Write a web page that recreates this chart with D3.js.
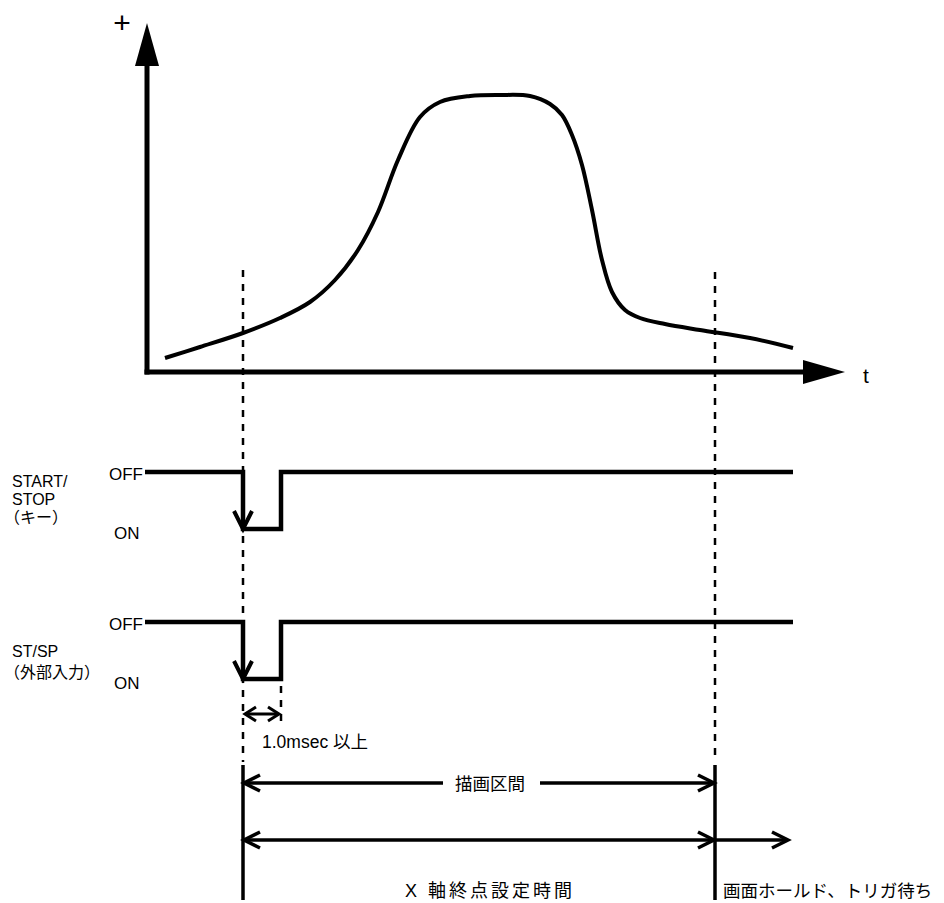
<!DOCTYPE html>
<html><head><meta charset="utf-8">
<script src="https://cdn.jsdelivr.net/npm/d3@7"></script>
<style>
html,body{margin:0;padding:0;background:#fff;}
svg{display:block;}
text{font-family:"Liberation Sans","Noto Sans CJK JP",Arial,sans-serif;fill:#000;}
</style></head>
<body>
<script>
// ---- data ----
const curveT = [18,53,96,133,163,188,211,231,251,273,293,323,353,383,403,415,425,435,445,455,465,478,493,518,553,603,646];
const curveV = [14,25,39,54,70,92,122,160,212,255,270,276,277,276,268,257,237,207,162,112,80,62,54,48,42,34,24];
const signalNames = ["START/STOP", "ST/SP"];
const signalLabelLines = [["START/", "STOP", "（キー）"], ["ST/SP", "（外部入力）"]];
const stateLabels = ["OFF", "ON"];
const signalT = [-2, 96, 134, 646];   // start, press, release, end
const markT = [96, 568, 641];          // trigger, x-axis end, hold arrow end
const pulseLabel = "1.0msec 以上";
const spanLabels = ["描画区間", "X 軸終点設定時間", "画面ホールド、トリガ待ち"];

const W = 944, H = 903;
const svg = d3.select("body").append("svg").attr("width", W).attr("height", H);

const x = d3.scaleLinear().domain([0, 700]).range([147, 847]);
const y = d3.scaleLinear().domain([0, 280]).range([372, 92]);
const sigY = d3.scaleOrdinal().domain(["START/STOP|OFF","START/STOP|ON","ST/SP|OFF","ST/SP|ON"]).range([472, 529, 622, 679]);

// axes
const g = svg.append("g");
g.append("line").attr("x1", x(0)).attr("x2", x(0)).attr("y1", y(0) + 2.5).attr("y2", 60)
  .attr("stroke", "#000").attr("stroke-width", 5);
g.append("path").attr("d", `M${x(0)},23 L${x(0)-12},66 L${x(0)+12},66 Z`).attr("fill", "#000");
g.append("line").attr("x1", x(0) - 2.5).attr("x2", 808).attr("y1", y(0)).attr("y2", y(0))
  .attr("stroke", "#000").attr("stroke-width", 5);
g.append("path").attr("d", `M845,${y(0)} L803,${y(0)-12} L803,${y(0)+12} Z`).attr("fill", "#000");
g.append("text").attr("x", 122).attr("y", 33).attr("text-anchor", "middle").attr("font-size", 30).text("+");
g.append("text").attr("x", 863).attr("y", 383).attr("font-size", 21).text("t");

// curve
const line = d3.line().x(d => x(d[0])).y(d => y(d[1])).curve(d3.curveCatmullRom.alpha(0.5));
g.append("path").datum(curveT.map((t, i) => [t, curveV[i]]))
  .attr("d", line).attr("fill", "none").attr("stroke", "#000").attr("stroke-width", 4)
  .attr("stroke-linecap", "butt");

// dashed verticals
[[markT[0], 270], [markT[1], 272]].forEach(([t, top]) => {
  g.append("line").attr("x1", x(t)).attr("x2", x(t)).attr("y1", top).attr("y2", 762)
    .attr("stroke", "#000").attr("stroke-width", 2.5).attr("stroke-dasharray", "7,7");
});
g.append("line").attr("x1", x(signalT[2])).attr("x2", x(signalT[2])).attr("y1", 686).attr("y2", 722)
  .attr("stroke", "#000").attr("stroke-width", 2.5).attr("stroke-dasharray", "7,7");

// signals
signalNames.forEach((name, i) => {
  const off = sigY(name + "|OFF"), on = sigY(name + "|ON");
  const pts = [[signalT[0], off], [signalT[1], off], [signalT[1], on], [signalT[2], on], [signalT[2], off], [signalT[3], off]];
  g.append("path").attr("d", d3.line().x(d => x(d[0])).y(d => d[1]).curve(d3.curveLinear)(pts))
    .attr("fill", "none").attr("stroke", "#000").attr("stroke-width", 4.5).attr("stroke-linejoin", "miter");
  // down arrow chevron
  const xp = x(signalT[1]);
  g.append("path").attr("d", `M${xp-9},${on-18} L${xp},${on} L${xp+9},${on-18}`)
    .attr("fill", "none").attr("stroke", "#000").attr("stroke-width", 4);
  // state labels
  g.append("text").attr("x", 143).attr("y", off + 8).attr("text-anchor", "end").attr("font-size", 17).text(stateLabels[0]);
  g.append("text").attr("x", 114).attr("y", on + 10).attr("font-size", 17).text(stateLabels[1]);
  // name
  const lines = signalLabelLines[i];
  const baseY = i === 0 ? [487, 505, 523] : [657, 678];
  lines.forEach((l, j) => {
    const isCJK = /^（/.test(l);
    g.append("text").attr("x", isCJK ? 4 : 12).attr("y", baseY[j]).attr("font-size", 16).text(l);
  });
});

// helper arrows
function chevron(xt, yy, dir, len, half) {
  return `M${xt - dir*len},${yy-half} L${xt},${yy} L${xt - dir*len},${yy+half}`;
}
function hline(x1, x2, yy, w) {
  g.append("line").attr("x1", x1).attr("x2", x2).attr("y1", yy).attr("y2", yy)
    .attr("stroke", "#000").attr("stroke-width", w);
}
function head(xt, yy, dir, len, half, w) {
  g.append("path").attr("d", chevron(xt, yy, dir, len, half)).attr("fill", "none")
    .attr("stroke", "#000").attr("stroke-width", w);
}

// pulse width arrow
const pa = 714;
hline(x(signalT[1]) + 2, x(signalT[2]) - 2, pa, 3);
head(x(signalT[1]) + 2, pa, -1, 11, 7, 3);
head(x(signalT[2]) - 2, pa, 1, 11, 7, 3);
g.append("text").attr("x", 262).attr("y", 748).attr("font-size", 17.5).text(pulseLabel);

// bottom spans
const xs = x(markT[0]), xe = x(markT[1]), xh = x(markT[2]);
[xs, xe].forEach(xx => {
  g.append("line").attr("x1", xx).attr("x2", xx).attr("y1", 765).attr("y2", 900)
    .attr("stroke", "#000").attr("stroke-width", 3.5);
});
const y1 = 783, y2 = 840;
hline(xs, 443, y1, 3.5);
hline(540, xe, y1, 3.5);
head(xs + 1, y1, -1, 16, 8, 3.5);
head(xe - 1, y1, 1, 16, 8, 3.5);
g.append("text").attr("x", 490).attr("y", y1 + 7).attr("text-anchor", "middle").attr("font-size", 17.5).text(spanLabels[0]);

hline(xs, xh, y2, 3.5);
head(xs + 1, y2, -1, 16, 8, 3.5);
head(xe - 1, y2, 1, 16, 8, 3.5);
head(xh, y2, 1, 16, 8, 3.5);
g.append("text").attr("x", 490).attr("y", 897).attr("text-anchor", "middle").attr("font-size", 18)
  .attr("letter-spacing", 3).text(spanLabels[1]);
g.append("text").attr("x", 723).attr("y", 897).attr("font-size", 17.5).text(spanLabels[2]);
</script>
</body></html>
